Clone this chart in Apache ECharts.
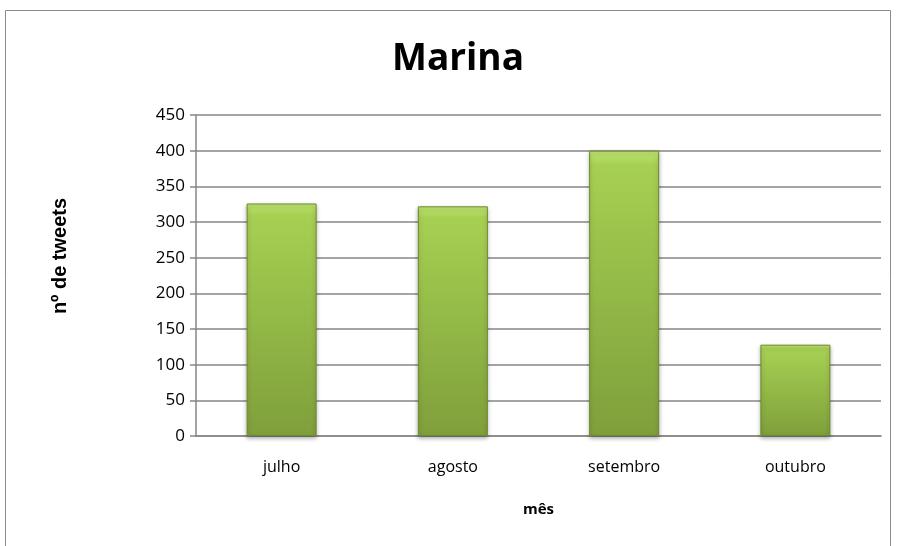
<!DOCTYPE html>
<html lang="pt">
<head>
    <meta charset="utf-8">
    <title>Marina</title>
    <script src="https://cdn.jsdelivr.net/npm/echarts@6/dist/echarts.min.js"></script>
</head>
<body style="margin:0;background:#fff;">
    <div id="chart" style="width:897px;height:546px;"></div>
    <script type="text/javascript">

    // dados
    var meses = ['julho', 'agosto', 'setembro', 'outubro'];
    var tweets = [326, 322, 400, 128];

    var chart = echarts.init(document.getElementById('chart'));
    chart.setOption({
        animation: false,
        backgroundColor: '#ffffff',
        graphic: [{
            type: 'rect',
            shape: {x: 5.5, y: 10.5, width: 885, height: 545},
            style: {fill: 'none', stroke: '#8c8c8c', lineWidth: 1}
        }, {
            // título do eixo y (nº de tweets), girado
            type: 'text',
            x: 60,
            y: 256,
            rotation: Math.PI / 2,
            style: {
                text: 'nº de tweets',
                fill: '#000',
                font: 'bold 20px "Liberation Sans"',
                align: 'center',
                verticalAlign: 'middle'
            }
        }],
        title: {
            text: 'Marina',
            left: 387,
            top: 36,
            textStyle: {fontFamily: 'Open Sans', fontSize: 37, fontWeight: 'bold', color: '#000'}
        },
        grid: {left: 196, right: 16, top: 115, bottom: 110},
        xAxis: {
            type: 'category',
            data: meses,
            name: 'mês',
            nameLocation: 'middle',
            nameGap: 66,
            nameTextStyle: {fontFamily: 'Open Sans', fontSize: 15, fontWeight: 'bold', color: '#000'},
            axisLine: {lineStyle: {color: '#868686', width: 1.5}},
            axisTick: {show: false},
            axisLabel: {fontFamily: 'Open Sans', fontSize: 16, color: '#000', margin: 23}
        },
        yAxis: {
            type: 'value',
            min: 0,
            max: 450,
            interval: 50,
            axisLine: {show: true, lineStyle: {color: '#868686', width: 1.5}},
            axisTick: {show: true, inside: false, length: 6, lineStyle: {color: '#868686', width: 1.5}},
            axisLabel: {fontFamily: 'Open Sans', fontSize: 17, color: '#000', margin: 11},
            splitLine: {lineStyle: {color: '#868686', width: 1.5}}
        },
        series: [{
            type: 'bar',
            data: tweets,
            barWidth: 70,
            itemStyle: {
                color: new echarts.graphic.LinearGradient(0, 0, 0, 1, [
                    {offset: 0, color: '#c0e672'},
                    {offset: 0.05, color: '#a6d052'},
                    {offset: 0.5, color: '#93b947'},
                    {offset: 1, color: '#7f9f3b'}
                ]),
                borderColor: '#6e8a30',
                borderWidth: 1,
                shadowColor: 'rgba(0,0,0,0.3)',
                shadowBlur: 4,
                shadowOffsetY: 2
            }
        }]
    });
    </script>
</body>
</html>
